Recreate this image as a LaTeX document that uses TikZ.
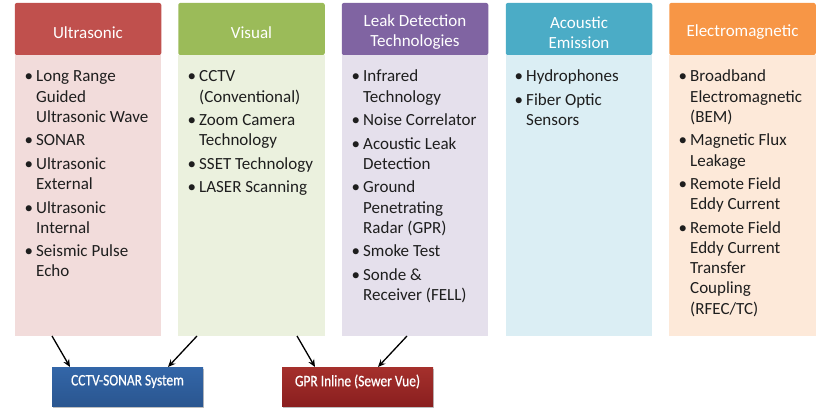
\documentclass[tikz,border=0pt]{standalone}
\usepackage{fontspec}
\setmainfont{Carlito}
\newfontfamily\sysfont[FakeStretch=0.84,FakeBold=0.6]{Carlito}
\usetikzlibrary{arrows.meta,shadows,calc}
\definecolor{hred}{HTML}{C0504D}\definecolor{bred}{HTML}{F2DCDB}
\definecolor{hgrn}{HTML}{9BBB59}\definecolor{bgrn}{HTML}{EBF1DE}
\definecolor{hpur}{HTML}{8064A2}\definecolor{bpur}{HTML}{E5E0EC}
\definecolor{haqu}{HTML}{4BACC6}\definecolor{baqu}{HTML}{DBEEF4}
\definecolor{hora}{HTML}{F79646}\definecolor{bora}{HTML}{FDE9D9}
\definecolor{txt}{HTML}{1E1E1E}
\definecolor{blueT}{HTML}{3366A8}\definecolor{blueM}{HTML}{467CC0}\definecolor{blueB}{HTML}{2A5690}
\definecolor{redT}{HTML}{A5302C}\definecolor{redM}{HTML}{BB423C}\definecolor{redB}{HTML}{8A1F1F}
\newcommand\blist[1]{\parbox[t]{200pt}{\fontsize{17}{20.2}\selectfont\raggedright\setlength{\parskip}{3.3pt}\leftskip=9pt\parindent=0pt #1}}
\newcommand\bi{\par\noindent\llap{\textbullet\hspace{3pt}}}
\tikzset{
  hdr/.style={rectangle, rounded corners=2pt, minimum width=146.5pt, minimum height=52pt, inner sep=0pt},
  hdrtxt/.style={inner sep=0pt, text=white, align=center, font=\fontsize{17}{20}\selectfont},
  bodybox/.style={rectangle, minimum width=146.5pt, minimum height=281pt, inner sep=0pt, anchor=north},
  lst/.style={anchor=base west, inner sep=0pt, text=txt},
  sysbox/.style={rectangle, minimum width=151pt, minimum height=39pt, inner sep=0pt, drop shadow={shadow xshift=1pt, shadow yshift=-1.5pt, opacity=0.5}},
  systxt/.style={inner sep=0pt, text=white, font=\sysfont\fontsize{16}{18}\selectfont},
  arr/.style={-{Stealth[length=7.5pt,width=6.5pt]}, line width=1.3pt, black}
}
\begin{document}
\begin{tikzpicture}[x=1pt,y=-1pt]
\useasboundingbox (0,0) rectangle (824,411);
% bodies
\node[bodybox, fill=bred] (ub) at (88,55) {};
\node[bodybox, fill=bgrn] (vb) at (251.5,55) {};
\node[bodybox, fill=bpur] (lb) at (415,55) {};
\node[bodybox, fill=baqu] (ab) at (579,55) {};
\node[bodybox, fill=bora] (eb) at (742.5,55) {};
% headers
\node[hdr, fill=hred] (uh) at (88,29) {};
\node[hdr, fill=hgrn] (vh) at (251.5,29) {};
\node[hdr, fill=hpur] (lh) at (415,29) {};
\node[hdr, fill=haqu] (ah) at (579,29) {};
\node[hdr, fill=hora] (eh) at (742.5,29) {};
\node[hdrtxt] (uht) at ($(uh.center)+(0,3.5)$) {Ultrasonic};
\node[hdrtxt] (vht) at ($(vh.center)+(0,3.5)$) {Visual};
\node[hdrtxt] (lht) at ($(lh.center)+(0,3.5)$) {Leak Detection\\Technologies};
\node[hdrtxt] (aht) at ($(ah.center)+(0,3.5)$) {Acoustic\\Emission};
\node[hdrtxt] (eht) at ($(eh.center)+(0,3.5)$) {Electromagnetic};
% lists
\node[lst] (ul) at (27,82) {\blist{\bi Long Range\\Guided\\Ultrasonic Wave\bi SONAR\bi Ultrasonic\\External\bi Ultrasonic\\Internal\bi Seismic Pulse\\Echo}};
\node[lst] (vl) at (190,82) {\blist{\bi CCTV\\(Conventional)\bi Zoom Camera\\Technology\bi SSET Technology\bi LASER Scanning}};
\node[lst] (ll) at (354,82) {\blist{\bi Infrared\\Technology\bi Noise Correlator\bi Acoustic Leak\\Detection\bi Ground\\Penetrating\\Radar (GPR)\bi Smoke Test\bi Sonde \&\\Receiver (FELL)}};
\node[lst] (al) at (517,82) {\blist{\bi Hydrophones\bi Fiber Optic\\Sensors}};
\node[lst] (el) at (681,82) {\blist{\bi Broadband\\Electromagnetic\\(BEM)\bi Magnetic Flux\\Leakage\bi Remote Field\\Eddy Current\bi Remote Field\\Eddy Current\\Transfer\\Coupling\\(RFEC/TC)}};
% system boxes
\node[sysbox, top color=blueT, middle color=blueM, bottom color=blueB] (cs) at (127.5,386.5) {};
\node[sysbox, top color=redT, middle color=redM, bottom color=redB] (gp) at (357.5,386.5) {};
\node[systxt] (cst) at ($(cs.center)+(0,-5)$) {CCTV-SONAR System};
\node[systxt] (gpt) at ($(gp.center)+(0,-5)$) {GPR Inline (Sewer Vue)};
% arrows
\coordinate (s1) at (52,336);\coordinate (e1) at (70,367);
\coordinate (s2) at (197,336);\coordinate (e2) at (168,367);
\coordinate (s3) at (297,336);\coordinate (e3) at (315,367);
\coordinate (s4) at (407,336);\coordinate (e4) at (378,367);
\draw[arr] (s1) -- (e1);
\draw[arr] (s2) -- (e2);
\draw[arr] (s3) -- (e3);
\draw[arr] (s4) -- (e4);
\end{tikzpicture}
\end{document}
